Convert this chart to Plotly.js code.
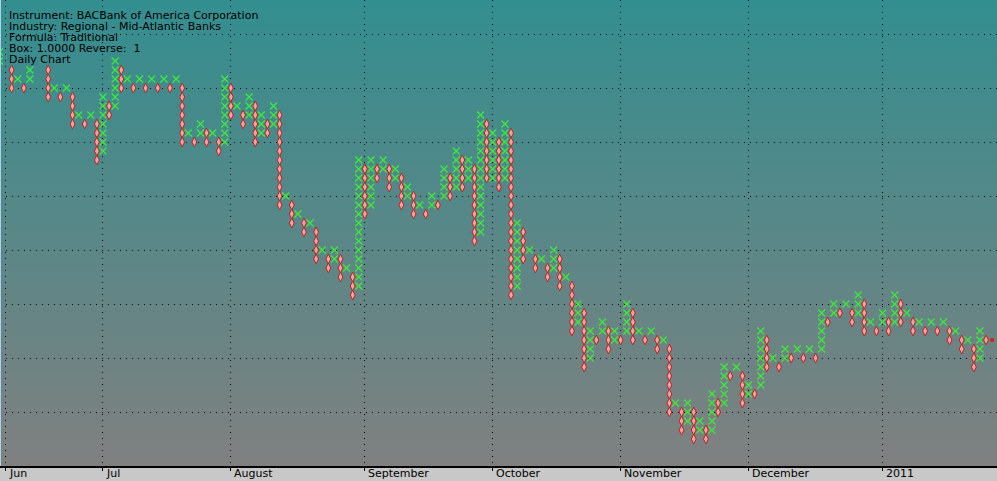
<!DOCTYPE html>
<html><head><meta charset="utf-8">
<script src="https://cdn.plot.ly/plotly-3.0.1.min.js"></script>
<style>
html,body{margin:0;padding:0;background:#c8c8c8;}
#wrap{position:relative;width:997px;height:481px;background:linear-gradient(to bottom, rgb(51,142,143) 0px, rgb(128,128,128) 466px, rgb(200,200,200) 466px, rgb(200,200,200) 481px);}
#chart{width:997px;height:481px;}
#info{position:absolute;left:9px;top:10px;font-family:'DejaVu Sans';font-size:11px;line-height:11.1px;color:#000;white-space:pre;pointer-events:none;}
</style></head><body>
<div id="wrap"><div id="chart"></div><div id="info"></div></div>
<script>
// Point & figure columns: trading-day index (0 = first day shown), type, lowest box, highest box
const colDay  = [-1,1,2,3,4,7,8,9,10,11,12,13,14,15,16,17,18,19,20,21,22,23,24,25,26,27,28,29,30,31,32,33,34,35,36,37,38,39,40,41,42,43,44,45,46,47,48,49,50,51,52,53,54,55,56,57,58,59,60,61,62,63,64,65,66,67,68,69,70,71,72,73,74,75,76,77,78,79,80,81,82,83,84,85,86,87,88,89,90,91,92,93,94,95,96,97,98,99,100,101,102,103,104,105,106,107,108,109,110,111,112,113,114,115,116,117,118,119,120,121,122,123,124,125,126,127,128,129,130,131,132,133,134,135,136,137,138,139,140,141,142,143,144,145,146,147,148,149,150,151,152,153,154,155,156,157,158,159,160,161];
const colType = ['X','O','X','O','X','O','X','O','X','O','X','O','X','O','X','O','X','O','X','O','X','O','X','O','X','O','X','O','X','O','X','O','X','O','X','O','X','O','X','O','X','O','X','O','X','O','X','O','X','O','X','O','X','O','X','O','X','O','X','O','X','O','X','O','X','O','X','O','X','O','X','O','X','O','X','O','X','O','X','O','X','O','X','O','X','O','X','O','X','O','X','O','X','O','X','O','X','O','X','O','X','O','X','O','X','O','X','O','X','O','X','O','X','O','X','O','X','O','X','O','X','O','X','O','X','O','X','O','X','O','X','O','X','O','X','O','X','O','X','O','X','O','X','O','X','O','X','O','X','O','X','O','X','O','X','O','X','O','X','O'];
const colLow  = [39,36,37,36,37,35,36,35,36,32,33,32,33,28,29,33,34,36,37,36,37,36,37,36,37,36,37,30,31,30,31,30,31,29,30,33,34,32,33,30,31,31,32,23,24,21,22,20,21,17,18,16,17,15,16,13,14,22,23,26,27,25,26,23,24,22,23,22,23,23,24,24,25,25,26,19,20,26,26,25,26,13,14,17,18,16,17,15,16,14,15,9,10,5,6,8,9,7,8,8,9,8,9,8,9,7,8,0,1,-2,-1,-3,-2,-3,-2,0,1,4,5,1,2,2,3,5,6,5,6,6,7,6,7,6,7,10,11,11,12,10,11,9,10,9,10,9,10,10,11,9,10,9,10,9,10,8,9,7,8,5,6,8];
const colHigh = [40,38,37,36,38,38,36,35,36,35,33,32,33,32,35,34,39,38,37,36,37,36,37,36,37,36,37,36,31,30,32,31,31,30,37,36,34,33,35,34,33,32,34,33,24,23,22,21,21,20,18,17,18,17,16,15,28,27,28,27,28,27,27,26,25,24,23,22,24,23,27,26,29,28,28,27,33,32,31,30,32,31,21,20,18,17,17,16,18,17,15,14,12,11,9,8,10,9,9,8,12,11,9,8,9,8,8,7,1,0,1,0,-1,-2,2,1,5,4,5,4,3,2,9,8,6,5,7,6,7,6,7,6,11,10,12,11,12,11,13,12,10,9,11,10,13,12,11,10,10,9,10,9,10,9,9,8,8,7,9,8];
const lastDay = 162, lastBox = 8;
const monthLabels = ['Jun','Jul','August','September','October','November','December','2011'];
const monthDays   = [0,16,37,59,80,101,122,144];
const infoLines = ['Instrument: BACBank of America Corporation','Industry: Regional - Mid-Atlantic Banks','Formula: Traditional','Box: 1.0000 Reverse:  1','Daily Chart'];
const gridBoxes = [0,6,12,18,24,30,36,42];

document.getElementById('info').textContent = infoLines.join('\n');

const xx=[],xy=[],ox=[],oy=[];
for(let k=0;k<colDay.length;k++){
  for(let b=colLow[k];b<=colHigh[k];b++){
    if(colType[k]==='X'){xx.push(colDay[k]);xy.push(b);} else {ox.push(colDay[k]);oy.push(b);}
  }
}
const FONT='DejaVu Sans';
const traces=[
 {type:'scatter',mode:'markers',x:ox,y:oy,hoverinfo:'skip',
  marker:{symbol:'diamond-tall',size:7,color:'#f2a2a2',line:{color:'#b82424',width:1}}},
 {type:'scatter',mode:'markers',x:xx,y:xy,hoverinfo:'skip',
  marker:{symbol:'x-thin-open',size:7,color:'#3ee83e',line:{color:'#3ee83e',width:1.3}}},
 {type:'scatter',mode:'markers',x:[lastDay],y:[lastBox],hoverinfo:'skip',
  marker:{symbol:'square',size:3.5,color:'#e01818'}}
];
const ann=[];
monthLabels.forEach((t,k)=>ann.push({x:monthDays[k],xref:'x',y:0,yref:'paper',yanchor:'top',xanchor:'left',xshift:1,yshift:1,
  text:t,showarrow:false,font:{family:FONT,size:11,color:'#000'}}));
const layout={
  width:997,height:481,margin:{l:0,r:0,t:0,b:15,pad:0},
  paper_bgcolor:'rgba(0,0,0,0)',plot_bgcolor:'rgba(0,0,0,0)',showlegend:false,
  xaxis:{range:[-0.91,162.8],tickmode:'array',tickvals:monthDays,ticktext:monthDays.map(()=>''),
    ticks:'outside',ticklen:3,tickcolor:'#000',tickwidth:1,showline:true,linecolor:'#000',linewidth:1.5,
    showgrid:true,gridcolor:'#000',gridwidth:1,griddash:'1px,5px',zeroline:false,fixedrange:true},
  yaxis:{range:[-6,45.78],tickmode:'array',tickvals:gridBoxes,showticklabels:false,ticks:'',
    showgrid:true,gridcolor:'#000',gridwidth:1,griddash:'1px,5px',zeroline:false,showline:false,fixedrange:true},
  annotations:ann,
  shapes:[{type:'line',xref:'paper',yref:'paper',x0:0,x1:0,y0:0,y1:1,line:{color:'#a9d3e6',width:2}}]
};
Plotly.newPlot('chart',traces,layout,{staticPlot:true,displayModeBar:false});
</script>
</body></html>
